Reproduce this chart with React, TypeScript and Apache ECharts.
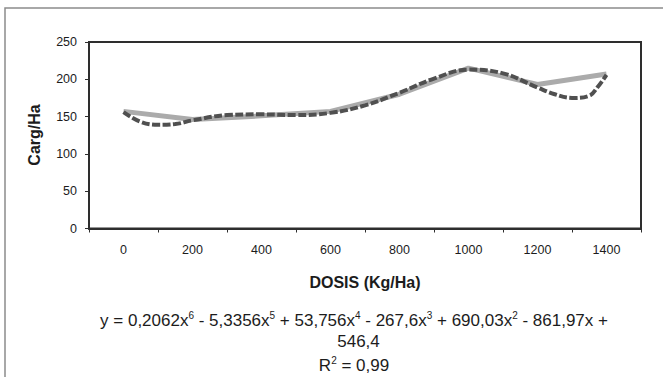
import React, { useEffect, useRef } from "react";
import * as echarts from "echarts";

const doseLabels = ["0", "200", "400", "600", "800", "1000", "1200", "1400"];
const yieldValues = [157, 146, 151, 157, 180, 215, 193, 207];

const trendDoses = [0, 50, 100, 150, 200, 300, 400, 500, 600, 700, 800, 900, 1000, 1100, 1200, 1250, 1300, 1350, 1375, 1400];
const trendValues = [156, 143, 139, 140, 145, 152, 153, 152, 155, 165, 182, 201, 213, 208, 189, 180, 175, 178, 190, 206];

const yTicks = { min: 0, max: 250, interval: 50 };

const FONT = "'Liberation Sans', Arial, sans-serif";
const INK = "#1c1c1c";
const AXIS = "#2e2e2e";

export default function App() {
  const ref = useRef<HTMLDivElement>(null);

  useEffect(() => {
    if (!ref.current) return;
    const chart = echarts.init(ref.current, undefined, { renderer: "svg" });
    const trendData = trendDoses.map((d, i) => [d, trendValues[i]]);
    const yieldData = doseLabels.map((d, i) => [Number(d), yieldValues[i]]);

    chart.setOption({
      animation: false,
      backgroundColor: "#ffffff",
      textStyle: { fontFamily: FONT },
      grid: {
        left: 89,
        right: 22,
        top: 42,
        bottom: 148.5,
        show: true,
        borderColor: AXIS,
        borderWidth: 2,
        backgroundColor: "transparent",
      },
      xAxis: [
        {
          type: "category",
          data: doseLabels,
          position: "bottom",
          axisLine: { onZero: false, lineStyle: { color: AXIS, width: 2 } },
          axisTick: { show: true, length: 4, lineStyle: { color: AXIS, width: 1 } },
          axisLabel: { color: INK, fontSize: 12.5, margin: 15, fontFamily: FONT },
          splitLine: { show: false },
        },
        {
          type: "value",
          min: -100,
          max: 1500,
          show: false,
          axisLine: { onZero: false },
        },
      ],
      yAxis: {
        type: "value",
        min: yTicks.min,
        max: yTicks.max,
        interval: yTicks.interval,
        axisLine: { show: true, onZero: false, lineStyle: { color: AXIS, width: 2 } },
        axisTick: { show: true, length: 4, lineStyle: { color: AXIS, width: 1 } },
        axisLabel: { color: INK, fontSize: 12.5, margin: 12, fontFamily: FONT },
        splitLine: { show: false },
      },
      series: [
        {
          type: "line",
          name: "Carg/Ha",
          xAxisIndex: 1,
          data: yieldData,
          symbol: "none",
          lineStyle: { color: "#ababab", width: 5 },
          z: 2,
        },
        {
          type: "line",
          name: "Polinómica",
          xAxisIndex: 1,
          data: trendData,
          smooth: 0.4,
          symbol: "none",
          lineStyle: { color: "#505050", width: 4, type: [8, 2.5], cap: "butt" },
          z: 3,
        },
      ],
      graphic: [
        {
          type: "rect",
          shape: { x: 5, y: 8, width: 720, height: 420 },
          style: { fill: "none", stroke: "#8c8c8c", lineWidth: 1.5 },
          silent: true,
        },
        {
          type: "text",
          x: 34,
          y: 135,
          rotation: Math.PI / 2,
          style: {
            text: "Carg/Ha",
            fontFamily: FONT,
            fontSize: 16,
            fontWeight: "bold",
            fill: INK,
            align: "center",
            verticalAlign: "middle",
          },
        },
        {
          type: "text",
          x: 365,
          y: 282,
          style: {
            text: "DOSIS (Kg/Ha)",
            fontFamily: FONT,
            fontSize: 16,
            fontWeight: "bold",
            fill: INK,
            align: "center",
            verticalAlign: "middle",
          },
        },
        {
          type: "text",
          x: 354,
          y: 320,
          style: {
            text:
              "{n|y = 0,2062x}{s|6}{n| - 5,3356x}{s|5}{n| + 53,756x}{s|4}{n| - 267,6x}{s|3}{n| + 690,03x}{s|2}{n| - 861,97x +}",
            fontFamily: FONT,
            fill: INK,
            align: "center",
            verticalAlign: "middle",
            rich: {
              n: { fontSize: 17, fontFamily: FONT, fill: INK, lineHeight: 19, verticalAlign: "middle" },
              s: { fontSize: 10, fontFamily: FONT, fill: INK, lineHeight: 10, verticalAlign: "top" },
            },
          },
        },
        {
          type: "text",
          x: 358.5,
          y: 341,
          style: {
            text: "546,4",
            fontFamily: FONT,
            fontSize: 17,
            fill: INK,
            align: "center",
            verticalAlign: "middle",
          },
        },
        {
          type: "text",
          x: 354,
          y: 365,
          style: {
            text: "{n|R}{s|2}{n| = 0,99}",
            fontFamily: FONT,
            fill: INK,
            align: "center",
            verticalAlign: "middle",
            rich: {
              n: { fontSize: 17, fontFamily: FONT, fill: INK, lineHeight: 19, verticalAlign: "middle" },
              s: { fontSize: 10, fontFamily: FONT, fill: INK, lineHeight: 10, verticalAlign: "top" },
            },
          },
        },
      ],
    });

    return () => chart.dispose();
  }, []);

  return (
    <div
      ref={ref}
      style={{ position: "fixed", left: 0, top: 0, width: 663, height: 377, background: "#fff" }}
    />
  );
}
